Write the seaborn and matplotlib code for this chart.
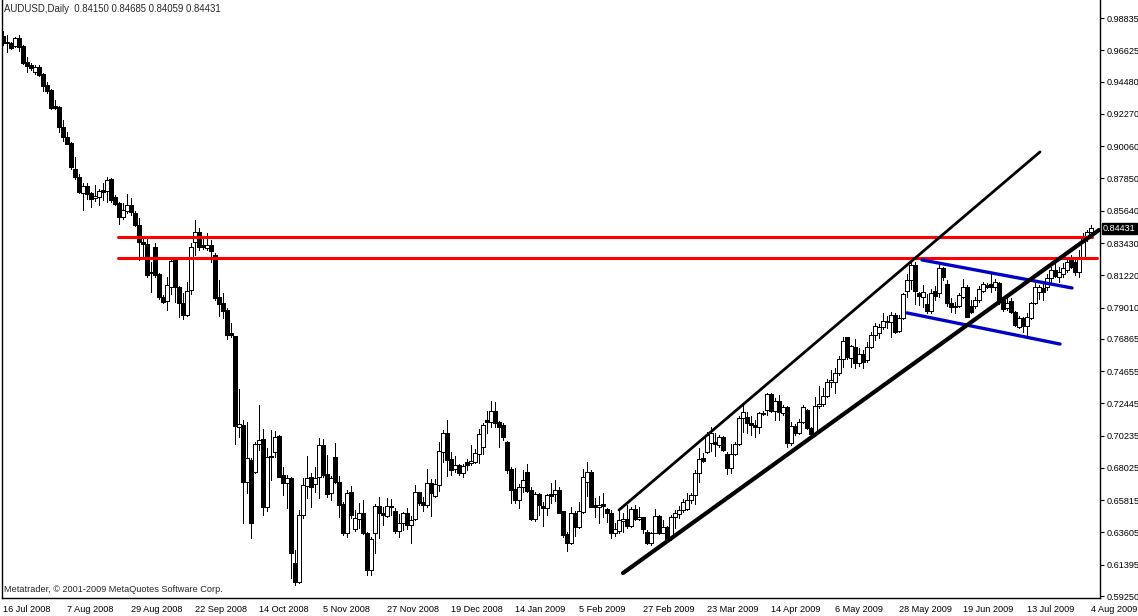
import matplotlib
matplotlib.use("Agg")
import matplotlib.pyplot as plt
import matplotlib.transforms as mtransforms
import numpy as np
import pandas as pd
import seaborn as sns

# daily AUDUSD bars, 16 Jul 2008 .. 4 Aug 2009
opens = [
    .9761, .9720, .9713, .9693, .9747, .9693, .9583, .9562, .9514, .9549,
    .9501, .9425, .9391, .9282, .9275, .9138, .9069, .9028, .8850, .8795,
    .8686, .8734, .8686, .8651, .8658, .8706, .8699, .8782, .8658, .8617,
    .8521, .8562, .8603, .8549, .8466, .8350, .8336, .8144, .8316, .8131,
    .7973, .7946, .8042, .8227, .8042, .7932, .7850, .8021, .8350, .8418,
    .8329, .8309, .8329, .8261, .7973, .7932, .7884, .7727, .7706, .7083,
    .7096, .6706, .6857, .6774, .6966, .7001, .6535, .6884, .6911, .7021,
    .6754, .6699, .6733, .6151, .6021, .6480, .6679, .6740, .6692, .6740,
    .6959, .6761, .6631, .6877, .6706, .6555, .6357, .6637, .6384, .6453,
    .6494, .6357, .6103, .6357, .6542, .6494, .6473, .6542, .6507, .6370,
    .6425, .6494, .6411, .6453, .6637, .6569, .6548, .6699, .6610, .6685,
    .6911, .7042, .6864, .6795, .6822, .6768, .6843, .6836, .6843, .6898,
    .6946, .7131, .7117, .7192, .7117, .7096, .6980, .6795, .6658, .6583,
    .6672, .6774, .6651, .6453, .6624, .6542, .6528, .6624, .6624, .6651,
    .6507, .6350, .6288, .6494, .6398, .6500, .6706, .6774, .6548, .6535,
    .6555, .6521, .6494, .6357, .6370, .6439, .6453, .6405, .6521, .6453,
    .6466, .6363, .6288, .6357, .6473, .6357, .6398, .6322, .6466, .6487,
    .6514, .6521, .6583, .6617, .6768, .6870, .6911, .6973, .6980, .6959,
    .7014, .6898, .6802, .6898, .6966, .7144, .7151, .7110, .7096, .7083,
    .7172, .7199, .7309, .7192, .7261, .7178, .7220, .6973, .7090, .7042,
    .7117, .7199, .7076, .7035, .7227, .7240, .7295, .7391, .7391, .7453,
    .7548, .7699, .7555, .7631, .7521, .7583, .7542, .7631, .7713, .7727,
    .7768, .7809, .7802, .7850, .7740, .7829, .8014, .8090, .8192, .8001,
    .7973, .7925, .7877, .8014, .8001, .8172, .8062, .7932, .7911, .7911,
    .7973, .8042, .7911, .7911, .7953, .8014, .8055, .8062, .8042, .8069,
    .7953, .7898, .7946, .7870, .7768, .7829, .7775, .7829, .7932, .8007,
    .8035, .8042, .8103, .8158, .8110, .8131, .8158, .8247, .8213, .8144,
    .8247, .8377, .84150,
]
highs = [
    .9795, .9768, .9720, .9754, .9768, .9699, .9617, .9576, .9562, .9562,
    .9508, .9446, .9398, .9323, .9282, .9186, .9103, .9035, .8932, .8816,
    .8754, .8754, .8692, .8740, .8713, .8754, .8795, .8788, .8672, .8624,
    .8617, .8679, .8651, .8562, .8514, .8371, .8377, .8213, .8343, .8138,
    .7987, .8110, .8240, .8247, .8049, .8001, .8076, .8343, .8501, .8446,
    .8384, .8412, .8364, .8275, .8090, .8001, .7898, .7795, .7706, .7343,
    .7131, .7117, .6870, .6980, .7233, .7069, .6939, .7062, .7055, .7028,
    .6809, .6754, .6740, .6240, .6514, .6733, .6884, .6768, .6809, .7007,
    .7001, .6891, .6747, .6973, .6747, .6569, .6651, .6679, .6514, .6562,
    .6583, .6363, .6329, .6555, .6603, .6535, .6596, .6590, .6528, .6487,
    .6500, .6528, .6473, .6685, .6637, .6603, .6795, .6727, .6727, .6980,
    .7062, .7131, .6911, .6884, .6829, .6829, .6864, .6959, .6932, .7069,
    .7110, .7192, .7261, .7254, .7124, .7110, .6987, .6809, .6802, .6692,
    .6788, .6829, .6672, .6637, .6631, .6569, .6624, .6699, .6720, .6672,
    .6507, .6363, .6535, .6507, .6569, .6795, .6843, .6788, .6596, .6610,
    .6631, .6528, .6514, .6425, .6514, .6494, .6548, .6535, .6548, .6535,
    .6466, .6377, .6363, .6521, .6480, .6446, .6405, .6480, .6514, .6542,
    .6590, .6631, .6631, .6788, .6939, .6905, .7048, .7083, .7042, .7028,
    .7021, .6911, .6966, .6980, .7158, .7233, .7185, .7158, .7131, .7185,
    .7192, .7315, .7315, .7281, .7302, .7233, .7227, .7117, .7103, .7138,
    .7233, .7206, .7083, .7288, .7364, .7350, .7412, .7473, .7487, .7569,
    .7699, .7699, .7644, .7686, .7624, .7610, .7665, .7734, .7795, .7788,
    .7864, .7843, .7870, .7864, .7850, .8001, .8131, .8206, .8213, .8007,
    .8055, .7994, .8028, .8049, .8213, .8179, .8090, .7966, .7939, .8001,
    .8097, .8055, .7953, .7973, .8049, .8076, .8069, .8131, .8097, .8076,
    .7966, .7973, .7966, .7877, .7843, .7836, .7864, .7939, .8069, .8055,
    .8069, .8131, .8179, .8206, .8179, .8206, .8247, .8261, .8247, .8295,
    .8412, .8430, .84685,
]
lows = [
    .9699, .9651, .9672, .9686, .9658, .9569, .9514, .9528, .9501, .9487,
    .9384, .9371, .9261, .9261, .9103, .9042, .9021, .8850, .8781, .8686,
    .8569, .8644, .8590, .8631, .8603, .8638, .8624, .8624, .8603, .8473,
    .8508, .8549, .8535, .8460, .8227, .8247, .8110, .8007, .8110, .7960,
    .7932, .7884, .7994, .7939, .7836, .7822, .7843, .7994, .8261, .8295,
    .8302, .8295, .8213, .7953, .7843, .7829, .7686, .7699, .6966, .7014,
    .6425, .6631, .6322, .6768, .6925, .6480, .6507, .6720, .6877, .6740,
    .6617, .6528, .6048, .6000, .6014, .6459, .6596, .6535, .6637, .6596,
    .6740, .6603, .6583, .6699, .6466, .6343, .6329, .6459, .6370, .6391,
    .6350, .6069, .6069, .6220, .6322, .6411, .6466, .6480, .6357, .6329,
    .6377, .6384, .6288, .6446, .6548, .6507, .6535, .6473, .6603, .6644,
    .6843, .6747, .6754, .6774, .6754, .6740, .6788, .6822, .6836, .6836,
    .6898, .7042, .7083, .7083, .6946, .6994, .6768, .6562, .6562, .6528,
    .6637, .6637, .6446, .6439, .6480, .6405, .6480, .6562, .6576, .6494,
    .6329, .6233, .6281, .6336, .6391, .6494, .6610, .6535, .6466, .6425,
    .6466, .6432, .6322, .6336, .6357, .6363, .6391, .6398, .6446, .6446,
    .6357, .6281, .6274, .6357, .6350, .6357, .6302, .6309, .6391, .6459,
    .6500, .6514, .6562, .6555, .6706, .6843, .6905, .6918, .6884, .6946,
    .6918, .6761, .6768, .6891, .6959, .7048, .7042, .7028, .7014, .7042,
    .7165, .7165, .7185, .7131, .7131, .7165, .6946, .6959, .7028, .7035,
    .7110, .7069, .7014, .7021, .7213, .7227, .7288, .7357, .7315, .7439,
    .7494, .7548, .7494, .7487, .7501, .7487, .7528, .7624, .7679, .7692,
    .7754, .7761, .7699, .7727, .7734, .7822, .7973, .8028, .7925, .7918,
    .7905, .7864, .7864, .7953, .7973, .8090, .7911, .7870, .7864, .7905,
    .7966, .7836, .7864, .7898, .7939, .8007, .8035, .8007, .8021, .7925,
    .7877, .7884, .7864, .7775, .7761, .7734, .7699, .7822, .7925, .7960,
    .7953, .8021, .8069, .8110, .8076, .8110, .8144, .8172, .8124, .8110,
    .8234, .8360, .84059,
]
closes = [
    .9713, .9713, .9679, .9747, .9686, .9576, .9556, .9542, .9549, .9494,
    .9419, .9384, .9268, .9268, .9138, .9069, .9021, .8864, .8795, .8692,
    .8734, .8679, .8644, .8665, .8699, .8692, .8775, .8638, .8610, .8521,
    .8569, .8603, .8555, .8466, .8350, .8336, .8124, .8138, .8124, .7973,
    .7939, .8055, .8220, .8042, .7932, .7850, .8014, .8316, .8418, .8316,
    .8316, .8329, .8288, .7966, .7925, .7877, .7713, .7713, .7090, .7103,
    .6706, .6870, .6425, .6966, .6994, .6535, .6877, .6877, .7014, .6740,
    .6699, .6733, .6220, .6021, .6480, .6685, .6733, .6672, .6733, .6959,
    .6754, .6624, .6733, .6706, .6548, .6357, .6631, .6480, .6459, .6494,
    .6357, .6103, .6316, .6542, .6494, .6480, .6542, .6535, .6370, .6425,
    .6494, .6411, .6446, .6637, .6562, .6548, .6699, .6631, .6692, .6918,
    .7042, .6857, .6788, .6822, .6768, .6816, .6822, .6850, .6905, .7035,
    .7096, .7117, .7192, .7110, .7083, .7014, .6788, .6651, .6583, .6672,
    .6720, .6644, .6453, .6624, .6548, .6528, .6617, .6610, .6651, .6494,
    .6343, .6288, .6494, .6398, .6507, .6740, .6774, .6535, .6535, .6548,
    .6542, .6494, .6357, .6384, .6446, .6453, .6405, .6521, .6453, .6466,
    .6384, .6288, .6357, .6473, .6357, .6398, .6316, .6466, .6494, .6514,
    .6569, .6583, .6617, .6768, .6864, .6850, .7028, .7042, .6966, .7014,
    .6925, .6802, .6898, .6966, .7144, .7185, .7110, .7096, .7083, .7178,
    .7178, .7309, .7192, .7261, .7185, .7220, .6973, .7090, .7042, .7117,
    .7220, .7076, .7035, .7227, .7240, .7295, .7391, .7405, .7453, .7548,
    .7672, .7562, .7638, .7521, .7583, .7528, .7631, .7713, .7775, .7768,
    .7809, .7802, .7850, .7734, .7829, .7994, .8090, .8192, .8014, .7980,
    .8007, .7877, .8001, .7980, .8172, .8110, .7932, .7905, .7905, .7987,
    .8042, .7836, .7870, .7953, .8028, .8062, .8042, .8042, .8076, .7939,
    .7891, .7932, .7870, .7781, .7829, .7775, .7836, .7932, .8042, .8042,
    .8007, .8103, .8158, .8117, .8144, .8172, .8213, .8179, .8144, .8247,
    .8377, .8415, .84431,
]

date_labels = ["16 Jul 2008", "7 Aug 2008", "29 Aug 2008", "22 Sep 2008", "14 Oct 2008",
               "5 Nov 2008", "27 Nov 2008", "19 Dec 2008", "14 Jan 2009", "5 Feb 2009",
               "27 Feb 2009", "23 Mar 2009", "14 Apr 2009", "6 May 2009", "28 May 2009",
               "19 Jun 2009", "13 Jul 2009", "4 Aug 2009"]
price_ticks = [0.98835, 0.96625, 0.94480, 0.92270, 0.90060, 0.87850, 0.85640, 0.83430,
               0.81220, 0.79010, 0.76865, 0.74655, 0.72445, 0.70235, 0.68025, 0.65815,
               0.63605, 0.61395, 0.59250]

# drawn objects: (bar index, price) end points
red_levels = [0.8384, 0.8240]
red_start = [28.75, 28.75]
red_end = [272.25, 273.5]
upper_channel_x = [154, 259.25]
upper_channel_y = [0.6514, 0.8967]
lower_channel_x = [155, 274]
lower_channel_y = [0.6082, 0.8432]
blue_top_x = [229.75, 267.25]
blue_top_y = [0.8227, 0.8035]
blue_bot_x = [226, 264.25]
blue_bot_y = [0.7864, 0.7651]

bars = pd.DataFrame({"Open": opens, "High": highs, "Low": lows, "Close": closes})
bars["Bar"] = np.arange(len(bars))
bars["Up"] = bars["Close"] >= bars["Open"]

sns.set_style("white")
plt.rcParams["font.family"] = ["Liberation Sans", "DejaVu Sans"]

fig = plt.figure(figsize=(11.38, 6.16), dpi=100)
ax = fig.add_axes([2 / 1138, 18 / 616, 1098 / 1138, 598 / 616])

# wicks first, then bodies drawn on top
ax.vlines(bars["Bar"], bars["Low"], bars["High"], color="black", linewidth=0.65, antialiased=False, zorder=2)
body_low = bars[["Open", "Close"]].min(axis=1)
body_h = (bars["Close"] - bars["Open"]).abs().clip(lower=0.00005)
ax.bar(bars["Bar"], body_h, bottom=body_low, width=0.78,
       color=np.where(bars["Up"], "white", "black"), edgecolor="black",
       linewidth=0.6, antialiased=False, zorder=3)

# horizontal levels
for lvl, x0, x1 in zip(red_levels, red_start, red_end):
    sns.lineplot(x=[x0, x1], y=[lvl, lvl], ax=ax, color="#ff0000", linewidth=2.2, zorder=4)

sns.lineplot(x=blue_top_x, y=blue_top_y, ax=ax, color="#0000c8", linewidth=2.4, zorder=5)
sns.lineplot(x=blue_bot_x, y=blue_bot_y, ax=ax, color="#0000c8", linewidth=2.4, zorder=5)
sns.lineplot(x=upper_channel_x, y=upper_channel_y, ax=ax, color="black", linewidth=2.0, zorder=6)
sns.lineplot(x=lower_channel_x, y=lower_channel_y, ax=ax, color="black", linewidth=3.0, zorder=6)

ax.set_xlim(-0.25, 274.25)
ax.set_ylim(0.59113, 1.00076)

ax.yaxis.tick_right()
ax.set_yticks(price_ticks)
ax.set_yticklabels([f"{v:.5f}" for v in price_ticks])
ax.set_xticks([16 * k for k in range(len(date_labels))])
ax.set_xticklabels(date_labels, ha="left")
ax.tick_params(axis="y", direction="out", length=3, width=0.8, pad=2, labelsize=6.6, colors="black")
ax.tick_params(axis="x", direction="out", length=4, width=0.8, pad=1, labelsize=6.6, colors="black")
ax.set_xlabel("")
ax.set_ylabel("")
for side in ["left", "right", "bottom"]:
    ax.spines[side].set_color("black")
    ax.spines[side].set_linewidth(1.0)
ax.spines["top"].set_visible(False)

# current price marker on the price scale
trans = mtransforms.blended_transform_factory(ax.transAxes, ax.transData)
ax.text(1.0 + 3 / 1098, closes[-1], f"{closes[-1]:.5f}", transform=trans, ha="left", va="center",
        fontsize=6.6, color="white", clip_on=False,
        bbox=dict(boxstyle="square,pad=0.15", facecolor="black", edgecolor="black"))

fig.text(4 / 1138, 1 - 9 / 616, "AUDUSD,Daily  0.84150 0.84685 0.84059 0.84431",
         fontsize=6.9, va="center", ha="left")
fig.text(4 / 1138, 1 - 590 / 616, "Metatrader, \u00a9 2001-2009 MetaQuotes Software Corp.",
         fontsize=6.6, va="center", ha="left")

fig.savefig("out.png", dpi=100)
